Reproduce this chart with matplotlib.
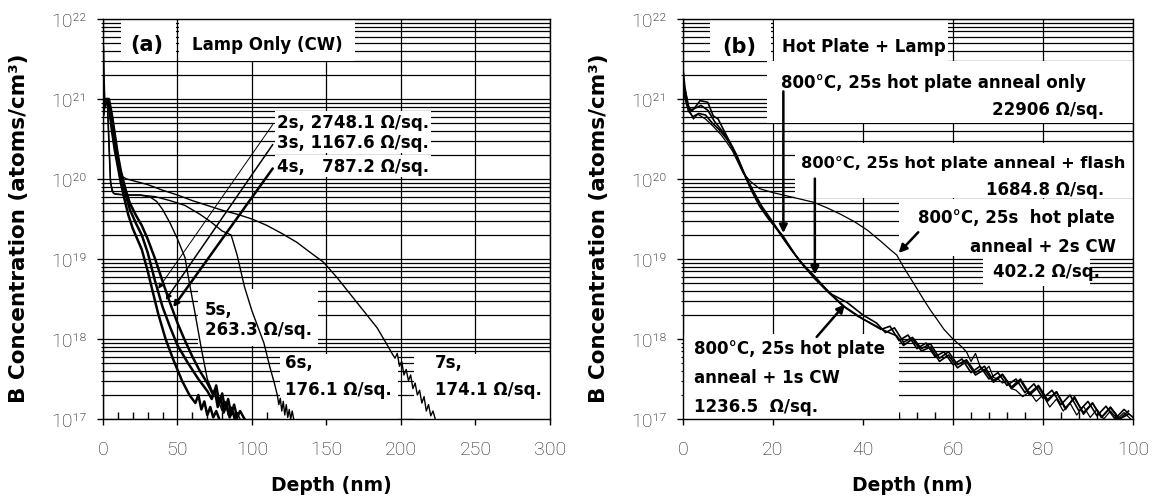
import matplotlib
matplotlib.use("Agg")
import matplotlib.pyplot as plt
from matplotlib.patches import Rectangle
from matplotlib.font_manager import FontProperties
from matplotlib.ticker import MultipleLocator, LogLocator, NullFormatter

# ---------------- data (depth in nm, log10 of B concentration) ----------------
# panel (a): lamp only (CW)
a_2s_depth = [0, 0.5, 1, 2, 3, 4, 6, 8, 10, 12, 14, 17, 20, 23, 26, 30, 33, 37, 42, 47,
              53, 58, 62, 64, 66, 68, 70, 72, 74, 76, 78]
a_2s_log = [21.65, 21.2, 20.9, 20.95, 21.0, 20.9, 20.6, 20.35, 20.15, 19.95, 19.78, 19.55, 19.38,
            19.25, 19.12, 18.85, 18.62, 18.32, 18.0, 17.75, 17.48, 17.3, 17.2, 17.3, 17.12, 17.22,
            17.05, 17.15, 17.02, 17.1, 17.0]

a_3s_depth = [0.5, 2, 4, 6, 8, 10, 12, 15, 18, 22, 26, 30, 35, 40, 45, 50, 57, 64, 70, 73,
              75, 77, 79, 81, 83, 85, 87, 89]
a_3s_log = [20.9, 21.0, 20.95, 20.75, 20.5, 20.25, 20.05, 19.82, 19.62, 19.45, 19.3, 19.08, 18.72,
            18.4, 18.15, 17.92, 17.7, 17.5, 17.35, 17.25, 17.36, 17.15, 17.26, 17.08, 17.18, 17.02,
            17.1, 17.0]

a_4s_depth = [0.5, 2, 4, 6, 8, 10, 12, 15, 18, 22, 26, 30, 35, 40, 45, 50, 55, 60, 65, 70,
              74, 76, 78, 80, 82, 84, 86, 88, 90, 92, 95]
a_4s_log = [20.9, 21.0, 21.0, 20.8, 20.55, 20.3, 20.1, 19.88, 19.7, 19.55, 19.42, 19.25, 19.0,
            18.72, 18.45, 18.2, 17.98, 17.78, 17.6, 17.45, 17.3, 17.42, 17.2, 17.32, 17.12, 17.25,
            17.06, 17.18, 17.02, 17.1, 17.0]

a_5s_depth = [0.5, 2, 3, 4, 5, 7, 15, 25, 32, 36, 40, 45, 50, 55, 58, 62, 66, 70, 74, 78,
              80, 82, 84, 86, 88, 90, 92]
a_5s_log = [20.8, 21.0, 20.9, 20.4, 19.95, 19.82, 19.8, 19.8, 19.77, 19.72, 19.62, 19.45, 19.25,
            19.02, 18.7, 18.3, 17.88, 17.5, 17.32, 17.2, 17.1, 17.22, 17.05, 17.15, 17.0, 17.08, 17.0]

a_6s_depth = [0.5, 1.5, 3, 4, 5, 6, 8, 15, 25, 35, 45, 55, 65, 72, 80, 86, 90, 95, 100, 104,
              108, 112, 115, 117, 118, 119, 120, 121, 122, 123, 124, 125, 126, 127, 128]
a_6s_log = [20.8, 21.0, 20.95, 20.5, 20.0, 19.85, 19.81, 19.8, 19.8, 19.78, 19.73, 19.67, 19.56,
            19.47, 19.35, 19.3, 19.05, 18.65, 18.35, 18.15, 17.95, 17.65, 17.45, 17.3, 17.18, 17.26,
            17.1, 17.22, 17.05, 17.18, 17.02, 17.12, 17.0, 17.1, 17.0]

a_7s_depth = [0.5, 2, 4, 6, 8, 10, 13, 16, 20, 30, 40, 50, 60, 70, 80, 90, 100, 110, 120, 130,
              140, 148, 157, 166, 175, 184, 190, 194, 196, 197.5, 199, 200.5, 202, 203.5, 205,
              206.5, 208, 209.5, 211, 212.5, 214, 215.5, 217, 218.5, 220, 221.5, 223]
a_7s_log = [20.95, 21.0, 20.9, 20.65, 20.4, 20.2, 20.03, 20.0, 19.98, 19.93, 19.86, 19.8, 19.73,
            19.67, 19.61, 19.56, 19.5, 19.42, 19.32, 19.21, 19.07, 18.96, 18.77, 18.56, 18.35,
            18.14, 17.95, 17.82, 17.76, 17.82, 17.66, 17.72, 17.55, 17.62, 17.48, 17.55, 17.38,
            17.45, 17.3, 17.36, 17.2, 17.28, 17.1, 17.18, 17.04, 17.1, 17.0]

# panel (b): 800 C, 25 s hot plate + lamp
b_hp_depth = [0, 0.4, 1.1, 2, 3, 3.8, 5.5, 6.7, 7.8, 9.7, 12, 13.3, 15, 17, 19, 22.2, 25, 29,
              32, 35.6, 39, 43, 45, 47.5, 49, 51, 53, 55, 57, 59, 61, 63, 65, 67, 69, 71, 73,
              75, 77, 79, 81, 83, 85, 87, 89, 91, 93, 95, 97, 99]
b_hp_log = [21.38, 21.16, 20.91, 20.85, 20.92, 20.98, 20.96, 20.79, 20.75, 20.54, 20.29, 20.1,
            19.88, 19.66, 19.5, 19.29, 19.05, 18.77, 18.6, 18.41, 18.28, 18.16, 18.1, 18.04,
            17.92, 18.0, 17.85, 17.9, 17.72, 17.8, 17.64, 17.72, 17.55, 17.62, 17.46, 17.55,
            17.38, 17.48, 17.3, 17.4, 17.22, 17.34, 17.12, 17.28, 17.06, 17.2, 17.02, 17.15,
            17.0, 17.1]

b_flash_depth = [0, 0.5, 1.2, 2.2, 3.5, 5, 6.5, 8, 10, 12, 13.5, 15.5, 17.5, 20, 23, 26, 29,
                 32.5, 36, 40, 44, 46, 48, 50, 52, 54, 56, 58, 60, 62, 64, 66, 68, 70, 72, 74,
                 76, 78, 80, 82, 84, 86, 88, 90, 92, 94, 96, 98, 100]
b_flash_log = [21.1, 21.0, 20.85, 20.78, 20.82, 20.8, 20.7, 20.62, 20.48, 20.27, 20.08, 19.86,
               19.66, 19.46, 19.2, 18.97, 18.8, 18.58, 18.4, 18.25, 18.12, 18.16, 17.98, 18.05,
               17.88, 17.95, 17.78, 17.84, 17.68, 17.75, 17.58, 17.66, 17.5, 17.58, 17.42, 17.5,
               17.33, 17.44, 17.26, 17.36, 17.18, 17.3, 17.1, 17.22, 17.04, 17.16, 17.0, 17.12,
               17.02]

b_1s_depth = [0, 0.6, 1.5, 2.5, 4, 5.5, 7, 9, 11, 12.5, 14, 16, 18, 21, 24, 27, 30, 33, 36.4,
              40, 43, 45, 47, 49, 51, 53, 55, 57, 59, 61, 63, 65, 67, 69, 71, 73, 75, 77, 79,
              81, 83, 85, 87, 89, 91, 93, 95, 97, 99]
b_1s_log = [21.2, 21.0, 20.86, 20.88, 20.92, 20.86, 20.72, 20.58, 20.4, 20.22, 20.02, 19.8, 19.6,
            19.36, 19.12, 18.9, 18.72, 18.56, 18.46, 18.3, 18.2, 18.08, 18.14, 17.96, 18.02,
            17.88, 17.94, 17.76, 17.84, 17.68, 17.74, 17.58, 17.66, 17.48, 17.56, 17.4, 17.5,
            17.32, 17.42, 17.24, 17.34, 17.14, 17.26, 17.08, 17.2, 17.02, 17.14, 17.0, 17.06]

b_2s_depth = [0, 0.3, 0.8, 1.5, 2.3, 3.3, 5, 6.7, 8.5, 9.7, 11, 12.2, 13.3, 15, 17, 20, 23, 26,
              29, 32, 35, 38, 41, 44, 46, 47.5, 49, 51, 53.4, 55, 56.4, 58, 60, 61, 62, 63, 64,
              65, 66, 67, 68, 69, 70, 71, 72, 73, 74, 75.5, 77, 78.5, 80, 81.5, 83, 84.5, 86,
              87.5, 89, 90.5, 92, 93.5, 95, 96.5, 98, 99.5]
b_2s_log = [21.25, 21.15, 21.04, 20.85, 20.75, 20.81, 20.75, 20.66, 20.55, 20.46, 20.35, 20.21,
            20.08, 19.97, 19.88, 19.83, 19.79, 19.75, 19.71, 19.64, 19.56, 19.47, 19.36, 19.22,
            19.12, 19.05, 18.9, 18.72, 18.5, 18.36, 18.25, 18.12, 18.0, 17.95, 17.9, 17.84,
            17.72, 17.82, 17.66, 17.6, 17.66, 17.52, 17.5, 17.45, 17.48, 17.38, 17.36, 17.28,
            17.34, 17.22, 17.3, 17.15, 17.25, 17.1, 17.2, 17.05, 17.16, 17.02, 17.12, 17.0,
            17.1, 17.0, 17.08, 17.0]

y_ticks = [1e17, 1e18, 1e19, 1e20, 1e21, 1e22]
y_tick_labels = ['10¹⁷', '10¹⁸', '10¹⁹', '10²⁰', '10²¹', '10²²']
a_x_ticks = [0, 50, 100, 150, 200, 250, 300]
b_x_ticks = [0, 20, 40, 60, 80, 100]


def conc(logs):
    return [10 ** v for v in logs]


plt.rcParams['font.family'] = ['DejaVu Sans']
tick_fp = FontProperties(family=['Roboto', 'DejaVu Sans'], weight='light', size=14)
BOLD = dict(fontsize=12, fontweight='bold', color='black', zorder=5)

fig = plt.figure(figsize=(11.6, 5.02), dpi=100)
ax_a = fig.add_axes([0.0888, 0.1633, 0.3853, 0.7968])
ax_b = fig.add_axes([0.5888, 0.1633, 0.3879, 0.7968])


def setup(ax, x_max, x_ticks, x_minor):
    ax.set_yscale('log')
    ax.set_xlim(0, x_max)
    ax.set_ylim(1e17, 1e22)
    ax.set_axisbelow(True)
    ax.set_xticks(x_ticks)
    ax.set_xticklabels([str(t) for t in x_ticks], fontproperties=tick_fp, color='#222222')
    ax.xaxis.set_minor_locator(MultipleLocator(x_minor))
    ax.set_yticks(y_ticks)
    ax.set_yticklabels(y_tick_labels, fontproperties=tick_fp, color='#222222')
    ax.yaxis.set_minor_locator(LogLocator(base=10, subs=range(2, 10)))
    ax.yaxis.set_minor_formatter(NullFormatter())
    ax.tick_params(axis='x', which='major', direction='out', length=4, width=1, pad=11)
    ax.tick_params(axis='x', which='minor', direction='in', length=5, width=1)
    ax.tick_params(axis='y', which='major', direction='out', length=4, width=1, pad=8)
    ax.tick_params(axis='y', which='minor', direction='inout', length=3, width=0.8)
    ax.grid(True, which='major', axis='x', color='black', lw=0.9)
    ax.grid(True, which='both', axis='y', color='black', lw=0.9)
    for s in ax.spines.values():
        s.set_linewidth(1)
    ax.set_xlabel('Depth (nm)', fontsize=13.5, fontweight='bold')
    ax.xaxis.set_label_coords(0.51, -0.14)
    ax.set_ylabel('B Concentration (atoms/cm³)', fontsize=15.5, fontweight='bold')
    ax.yaxis.set_label_coords(-0.165, 0.48)


def white(ax, x0, x1, l0, l1):
    ax.add_patch(Rectangle((x0, 10 ** l0), x1 - x0, 10 ** l1 - 10 ** l0,
                           facecolor='white', edgecolor='none', zorder=1))


setup(ax_a, 300, a_x_ticks, 10)
setup(ax_b, 100, b_x_ticks, 4)

# ---------------- panel (a) ----------------
for x0, x1, l0, l1 in [(12.1, 49, 21.475, 22), (51, 169, 21.475, 22),
                       (64, 144, 17.91, 18.62), (119, 198, 17.0, 17.81), (209, 300, 17.0, 17.81)]:
    white(ax_a, x0, x1, l0, l1)

ax_a.plot(a_7s_depth, conc(a_7s_log), color='black', lw=1.0, zorder=3)
ax_a.plot(a_6s_depth, conc(a_6s_log), color='black', lw=1.0, zorder=3)
ax_a.plot(a_5s_depth, conc(a_5s_log), color='black', lw=1.0, zorder=3)
ax_a.plot(a_4s_depth, conc(a_4s_log), color='black', lw=1.8, zorder=3)
ax_a.plot(a_3s_depth, conc(a_3s_log), color='black', lw=1.8, zorder=3)
ax_a.plot(a_2s_depth, conc(a_2s_log), color='black', lw=1.8, zorder=3)

ax_a.text(29.5, 10 ** 21.69, '(a)', ha='center', va='center', fontsize=15, fontweight='bold', zorder=5)
ax_a.text(110, 10 ** 21.69, 'Lamp Only (CW)', ha='center', va='center', **BOLD)

box = dict(facecolor='white', edgecolor='none', pad=1.5)
for label, ly, lw, tip in [('2s, 2748.1 Ω/sq.', 20.71, 0.7, (36, 18.6)),
                           ('3s, 1167.6 Ω/sq.', 20.46, 1.1, (41, 18.46)),
                           ('4s,   787.2 Ω/sq.', 20.16, 1.8, (46, 18.37))]:
    ax_a.text(117, 10 ** ly, label, ha='left', va='center', bbox=box, **BOLD)
    ax_a.annotate('', xy=(tip[0], 10 ** tip[1]), xytext=(115, 10 ** ly),
                  arrowprops=dict(arrowstyle='-|>', color='black', lw=lw, mutation_scale=8),
                  zorder=4)

ax_a.text(68.5, 10 ** 18.375, '5s,', ha='left', va='center', **BOLD)
ax_a.text(68.5, 10 ** 18.12, '263.3 Ω/sq.', ha='left', va='center', **BOLD)
ax_a.text(122, 10 ** 17.71, '6s,', ha='left', va='center', **BOLD)
ax_a.text(122, 10 ** 17.375, '176.1 Ω/sq.', ha='left', va='center', **BOLD)
ax_a.text(223, 10 ** 17.71, '7s,', ha='left', va='center', **BOLD)
ax_a.text(223, 10 ** 17.375, '174.1 Ω/sq.', ha='left', va='center', **BOLD)

# ---------------- panel (b) ----------------
for x0, x1, l0, l1 in [(6, 19.6, 21.475, 22), (20.2, 58.9, 21.475, 22),
                       (18.7, 100, 20.7, 21.475), (25, 100, 19.76, 20.45),
                       (48, 100, 19.04, 19.75), (66.7, 90.4, 18.66, 19.04),
                       (0, 48, 17.0, 18.06)]:
    white(ax_b, x0, x1, l0, l1)

ax_b.plot(b_2s_depth, conc(b_2s_log), color='black', lw=0.9, zorder=3)
ax_b.plot(b_flash_depth, conc(b_flash_log), color='black', lw=1.2, zorder=3)
ax_b.plot(b_1s_depth, conc(b_1s_log), color='black', lw=1.2, zorder=3)
ax_b.plot(b_hp_depth, conc(b_hp_log), color='black', lw=1.2, zorder=3)

ax_b.text(12.4, 10 ** 21.66, '(b)', ha='center', va='center', fontsize=15, fontweight='bold', zorder=5)
ax_b.text(40.2, 10 ** 21.66, 'Hot Plate + Lamp', ha='center', va='center', **BOLD)
ax_b.text(21.8, 10 ** 21.21, '800°C, 25s hot plate anneal only', ha='left', va='center', **BOLD)
ax_b.text(93.6, 10 ** 20.875, '22906 Ω/sq.', ha='right', va='center', **BOLD)
ax_b.text(26.2, 10 ** 20.21, '800°C, 25s hot plate anneal + flash', ha='left', va='center',
          fontsize=11.7, fontweight='bold', zorder=5)
ax_b.text(93.6, 10 ** 19.875, '1684.8 Ω/sq.', ha='right', va='center', **BOLD)
ax_b.text(52.2, 10 ** 19.525, '800°C, 25s  hot plate', ha='left', va='center', **BOLD)
ax_b.text(63.8, 10 ** 19.16, 'anneal + 2s CW', ha='left', va='center', **BOLD)
ax_b.text(69, 10 ** 18.85, '402.2 Ω/sq.', ha='left', va='center', **BOLD)
ax_b.text(2.4, 10 ** 17.89, '800°C, 25s hot plate', ha='left', va='center', **BOLD)
ax_b.text(2.4, 10 ** 17.525, 'anneal + 1s CW', ha='left', va='center', **BOLD)
ax_b.text(2.4, 10 ** 17.16, '1236.5  Ω/sq.', ha='left', va='center', **BOLD)

arrow = dict(arrowstyle='-|>', color='black', lw=1.8, mutation_scale=12)
for tip, tail in [((22.3, 19.29), (22.3, 21.13)),
                  ((29.3, 18.77), (29.3, 20.04)),
                  ((47.5, 19.05), (52.7, 19.36)),
                  ((36.4, 18.46), (29.3, 18.0))]:
    ax_b.annotate('', xy=(tip[0], 10 ** tip[1]), xytext=(tail[0], 10 ** tail[1]),
                  arrowprops=arrow, zorder=4)

fig.savefig('out.png', dpi=100, facecolor='white')
